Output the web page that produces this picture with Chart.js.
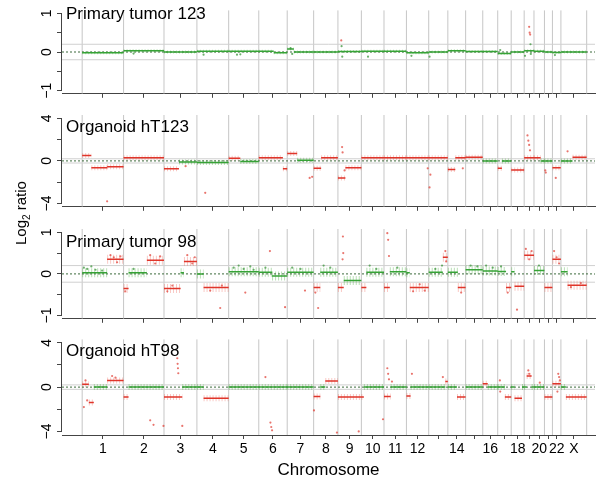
<!DOCTYPE html>
<html>
<head>
<meta charset="utf-8">
<title>Log2 ratio by chromosome</title>
<script src="https://cdn.jsdelivr.net/npm/chart.js@4.4.1/dist/chart.umd.min.js"></script>
<style>
  body { margin: 0; background: #fff; }
  #wrap { position: relative; width: 599px; height: 484px; font-family: "Liberation Sans", Arial, Helvetica, sans-serif; }
  #wrap canvas { position: absolute; left: 0; }
  #ylab { position: absolute; left: 22px; top: 213px; transform: translate(-50%, -50%) rotate(-90deg); font-size: 15px; white-space: nowrap; color: #000; }
  #ylab sub { font-size: 10px; }
</style>
</head>
<body>
<div id="wrap">
  <canvas id="p1" width="599" height="104" style="top:0px"></canvas>
  <canvas id="p2" width="599" height="113" style="top:104px"></canvas>
  <canvas id="p3" width="599" height="112" style="top:217px"></canvas>
  <canvas id="p4" width="599" height="155" style="top:329px"></canvas>
  <div id="ylab">Log<sub>2</sub> ratio</div>
</div>
<script>
// chromosomes (hg19, Mb)
var chromNames = ['1','2','3','4','5','6','7','8','9','10','11','12','13','14','15','16','17','18','19','20','21','22','X'];
var chromLengths = [249,243,198,191,181,171,159,146,141,136,135,134,115,107,103,90,81,78,59,63,48,51,155];
var chromLabelsShown = ['1','2','3','4','5','6','7','8','9','10','11','12','14','16','18','20','22','X'];
var callThreshold = 0.2;

var panelTitles = ['Primary tumor 123', 'Organoid hT123', 'Primary tumor 98', 'Organoid hT98'];
var panelLimits = [1, 4, 1, 4];

// segments: [chromosome, start Mb, end Mb, log2 ratio]
var segsT123 = [
  ['1',0,249,-0.02], ['2',0,243,0.03], ['3',0,198,0.0], ['4',0,191,0.02], ['5',0,181,0.02],
  ['6',0,90,0.02], ['6',90,171,-0.02], ['7',0,40,0.08], ['7',40,159,0.0], ['8',0,146,0.0],
  ['9',0,141,0.01], ['10',0,136,0.02], ['11',0,135,0.02], ['12',0,134,-0.02], ['13',0,115,0.0],
  ['14',0,107,0.03], ['15',0,103,0.01], ['16',0,90,0.01], ['17',0,81,-0.04], ['18',0,78,0.0],
  ['19',0,59,0.03], ['20',0,63,0.02], ['21',0,48,0.0], ['22',0,51,-0.01], ['X',0,155,0.0]
];
var segsHT123 = [
  ['1',0,55,0.5], ['1',55,150,-0.65], ['1',150,249,-0.55], ['2',0,243,0.3],
  ['3',0,90,-0.75], ['3',90,198,-0.1], ['4',0,191,-0.15], ['5',0,70,0.25], ['5',70,181,-0.05],
  ['6',0,145,0.3], ['6',145,171,-0.75], ['7',0,60,0.7], ['7',60,159,0.05],
  ['8',0,45,-0.7], ['8',45,146,0.3], ['9',0,45,-1.6], ['9',45,141,-0.65],
  ['10',0,136,0.3], ['11',0,135,0.3], ['12',0,134,0.3], ['13',0,115,0.3],
  ['14',0,45,-0.8], ['14',45,107,0.3], ['15',0,103,0.35], ['16',0,90,0.0],
  ['17',0,25,-0.7], ['17',25,81,0.0], ['18',0,78,-0.85], ['19',0,59,0.3],
  ['20',0,40,0.3], ['20',40,63,0.0], ['21',0,48,0.0], ['22',0,50,-0.65],
  ['X',0,70,0.0], ['X',70,155,0.35]
];
var segsT98 = [
  ['1',0,150,0.03], ['1',150,249,0.35], ['2',0,30,-0.35], ['2',30,140,0.03], ['2',140,243,0.33],
  ['3',0,100,-0.35], ['3',100,120,0.03], ['3',120,198,0.3], ['4',0,40,0.0], ['4',40,191,-0.33],
  ['5',0,181,0.05], ['6',0,80,0.04], ['6',80,171,-0.05], ['7',0,159,0.04],
  ['8',0,40,-0.33], ['8',40,146,0.04], ['9',0,35,-0.33], ['9',35,141,-0.16],
  ['10',0,30,-0.33], ['10',30,136,0.04], ['11',0,35,-0.33], ['11',35,135,0.05],
  ['12',0,20,0.03], ['12',20,134,-0.33], ['13',0,85,0.04], ['13',85,115,0.4],
  ['14',0,60,0.04], ['14',60,107,-0.33], ['15',0,103,0.1], ['16',0,90,0.07],
  ['17',0,50,0.06], ['17',50,81,-0.33], ['18',0,20,0.05], ['18',20,78,-0.3],
  ['19',0,59,0.45], ['20',0,63,0.08], ['21',0,48,-0.33], ['22',0,51,0.35],
  ['X',0,40,0.05], ['X',40,155,-0.27]
];
var segsHT98 = [
  ['1',0,40,0.25], ['1',40,70,-1.4], ['1',70,150,0.0], ['1',150,249,0.6],
  ['2',0,30,-0.9], ['2',30,243,0.0], ['3',0,110,-0.9], ['3',110,198,0.0],
  ['4',0,40,0.0], ['4',40,191,-1.0], ['5',0,181,0.0], ['6',0,171,0.0], ['7',0,159,0.0],
  ['8',0,40,-0.85], ['8',40,70,0.0], ['8',70,146,0.55], ['9',0,141,-0.9],
  ['10',0,15,-0.9], ['10',15,136,0.0], ['11',0,40,-0.85], ['11',40,135,0.0],
  ['12',0,25,-0.8], ['12',25,134,0.0], ['13',0,100,0.0], ['13',100,115,0.5],
  ['14',0,55,0.0], ['14',55,107,-0.9], ['15',0,103,0.0], ['16',0,30,0.3], ['16',30,90,0.0],
  ['17',0,43,0.0], ['17',43,81,-0.9], ['18',0,20,0.0], ['18',20,65,-1.0], ['18',65,78,0.0],
  ['19',0,15,0.0], ['19',15,45,1.0], ['19',45,59,0.0], ['20',0,63,0.0], ['21',0,48,-0.9],
  ['22',0,51,0.3], ['X',0,30,0.0], ['X',30,155,-0.9]
];

// single probes away from the segments: [chromosome, Mb, log2 ratio]
var ptsT123 = [
  ['2',60,-0.04], ['4',40,-0.07], ['5',50,-0.07], ['5',70,-0.06], ['7',20,0.1], ['7',30,-0.05],
  ['9',20,0.3], ['9',22,0.15], ['9',26,-0.12], ['10',40,-0.12], ['12',30,-0.1], ['13',5,-0.12],
  ['17',15,0.05], ['19',5,-0.1], ['19',30,0.65], ['19',33,0.5], ['19',36,0.45], ['19',38,0.2],
  ['19',40,-0.05], ['22',15,-0.08]
];
var ptsHT123 = [
  ['1',150,-3.8], ['3',130,-0.5], ['4',50,-3.0], ['7',135,-1.6], ['7',150,-1.5], ['9',25,1.3],
  ['9',28,0.8], ['9',40,-0.9], ['12',128,-0.7], ['13',5,-2.5], ['13',10,-1.3], ['14',90,-0.7],
  ['19',20,2.4], ['19',25,1.9], ['19',30,1.5], ['19',35,1.0], ['21',5,-0.9], ['21',8,-1.1],
  ['22',20,-1.6], ['X',40,0.9]
];
var ptsT98 = [
  ['1',10,0.15], ['1',30,0.12], ['1',55,0.18], ['1',80,0.1], ['1',120,0.08],
  ['1',170,0.45], ['1',190,0.4], ['1',210,0.28], ['1',230,0.42],
  ['2',10,-0.42], ['2',60,0.12], ['2',160,0.45], ['2',190,0.25], ['2',220,0.42],
  ['3',20,-0.42], ['3',50,-0.28], ['3',140,0.45], ['3',170,0.25], ['3',185,0.4],
  ['4',80,-0.4], ['4',140,-0.82], ['4',150,-0.28],
  ['5',30,0.15], ['5',60,0.2], ['5',90,0.12], ['5',130,0.18], ['5',150,0.1], ['5',100,-0.45],
  ['6',40,0.15], ['6',67,0.55], ['6',158,-0.8], ['7',30,0.15], ['7',80,0.12], ['7',107,-0.4],
  ['8',10,-0.45], ['8',27,-0.82], ['8',60,0.2], ['8',100,0.15],
  ['9',28,0.35], ['9',30,0.9], ['9',32,0.5], ['10',50,0.2], ['10',90,0.12],
  ['11',20,0.98], ['11',25,0.82], ['11',30,0.43], ['11',80,0.15],
  ['12',40,-0.42], ['12',80,-0.25], ['12',110,-0.4],
  ['13',40,0.12], ['13',80,0.2], ['13',100,0.55], ['13',105,0.3], ['14',80,-0.45],
  ['15',30,0.2], ['15',70,0.18], ['16',20,0.2], ['16',60,0.15], ['17',20,0.18], ['17',60,-0.45],
  ['18',35,-0.86], ['19',10,0.6], ['19',30,0.35], ['19',45,0.55], ['20',30,0.2],
  ['22',10,0.55], ['22',25,0.4], ['22',40,0.25], ['X',60,-0.32], ['X',120,-0.22]
];
var ptsHT98 = [
  ['1',10,-1.8], ['1',30,-1.2], ['1',20,0.6], ['1',180,1.0], ['1',200,0.85],
  ['2',160,-3.0], ['2',180,-3.4], ['2',240,-3.5],
  ['3',80,2.6], ['3',82,2.1], ['3',84,1.7], ['3',86,1.25], ['3',110,-3.5],
  ['6',40,0.9], ['6',70,-3.2], ['6',75,-3.6], ['6',80,-3.9],
  ['8',2,-2.1], ['8',140,-4.1], ['9',125,-4.0], ['10',130,-2.9],
  ['11',20,1.7], ['11',25,1.2], ['11',30,0.7], ['11',48,0.5], ['12',33,1.2], ['13',85,0.9],
  ['17',13,0.6], ['17',15,-0.4], ['19',25,1.5], ['19',30,1.2], ['20',35,0.4],
  ['22',30,-0.4], ['22',35,1.2], ['22',40,0.9], ['22',45,0.6]
];

// genome coordinates
var chromOffset = {};
var chromCenters = [];
var chromBounds = [0];
var genomeEnd = 0;
chromNames.forEach(function(c, i) {
  chromOffset[c] = genomeEnd;
  chromCenters.push(genomeEnd + chromLengths[i] / 2);
  genomeEnd += chromLengths[i];
  chromBounds.push(genomeEnd);
});
var xMin = -0.04 * genomeEnd;
var xMax = genomeEnd + 50;

Chart.defaults.font.family = '"Liberation Sans", Arial, Helvetica, sans-serif';
Chart.defaults.color = '#000';

function isCalled(v) { return Math.abs(v) > callThreshold; }

function segmentLine(segs, wantCalled) {
  var out = [];
  segs.forEach(function(s) {
    if (isCalled(s[3]) !== wantCalled) return;
    var off = chromOffset[s[0]];
    out.push({x: off + s[1], y: s[3]}, {x: off + s[2], y: s[3]}, {x: off + s[2], y: null});
  });
  return out;
}

function probePoints(pts, wantCalled) {
  return pts.filter(function(p) { return isCalled(p[2]) === wantCalled; })
            .map(function(p) { return {x: chromOffset[p[0]] + p[1], y: p[2]}; });
}

// axis line, rotated tick labels and panel title
var panelDecor = {
  id: 'panelDecor',
  afterDraw: function(chart, args, opts) {
    var ctx = chart.ctx, ys = chart.scales.y, area = chart.chartArea;
    ctx.save();
    ctx.strokeStyle = '#444';
    ctx.lineWidth = 1;
    ctx.beginPath();
    ctx.moveTo(area.left - 0.5, ys.getPixelForValue(-opts.lim));
    ctx.lineTo(area.left - 0.5, ys.getPixelForValue(opts.lim));
    ctx.stroke();

    ctx.fillStyle = '#000';
    ctx.font = '14px "Liberation Sans", Arial, sans-serif';
    ctx.textAlign = 'center';
    ctx.textBaseline = 'middle';
    [-opts.lim, 0, opts.lim].forEach(function(v) {
      ctx.save();
      ctx.translate(47, ys.getPixelForValue(v));
      ctx.rotate(-Math.PI / 2);
      ctx.fillText(v < 0 ? '\u2212' + Math.abs(v) : String(v), 0, 0);
      ctx.restore();
    });

    ctx.textAlign = 'left';
    ctx.textBaseline = 'alphabetic';
    ctx.font = '17px "Liberation Sans", Arial, sans-serif';
    ctx.fillText(opts.title, 66, opts.titleY);
    ctx.restore();
  }
};

function buildPanel(cfg) {
  var lim = cfg.lim;
  var yr = lim * 1.08;

  var bounds = [];
  chromBounds.forEach(function(b) {
    bounds.push({x: b, y: -yr}, {x: b, y: yr}, {x: b, y: null});
  });
  var thresholds = [
    {x: xMin, y: callThreshold}, {x: xMax, y: callThreshold}, {x: xMax, y: null},
    {x: xMin, y: -callThreshold}, {x: xMax, y: -callThreshold}
  ];

  var lineDs = function(data, color, width, order, dash) {
    return {data: data, showLine: true, borderColor: color, borderWidth: width,
            borderDash: dash || [], pointRadius: 0, order: order, spanGaps: false};
  };

  new Chart(document.getElementById(cfg.id), {
    type: 'scatter',
    data: {
      datasets: [
        lineDs(bounds, '#c6c6c6', 1, 9),
        lineDs(thresholds, '#d0d0d0', 1, 8),
        lineDs(segmentLine(cfg.segs, false), 'rgba(80,175,70,0.4)', cfg.texW, 7, [1, 2]),
        lineDs(segmentLine(cfg.segs, true), 'rgba(240,120,110,0.4)', cfg.texW, 6, [1, 2]),
        lineDs([{x: xMin, y: 0}, {x: xMax, y: 0}], '#3d6b3d', 1, 5, [2, 2]),
        lineDs(segmentLine(cfg.segs, false), '#36a336', 1.5, 4),
        lineDs(segmentLine(cfg.segs, true), '#e0352a', 1.5, 3),
        {data: probePoints(cfg.pts, false), pointRadius: 1.1, pointBorderWidth: 0,
         backgroundColor: 'rgba(60,150,60,0.75)', order: 2},
        {data: probePoints(cfg.pts, true), pointRadius: 1.1, pointBorderWidth: 0,
         backgroundColor: 'rgba(225,70,60,0.75)', order: 1}
      ]
    },
    options: {
      responsive: false,
      animation: false,
      events: [],
      layout: {padding: {top: cfg.padTop, right: 4, left: 0, bottom: 0}, autoPadding: false},
      plugins: {
        legend: {display: false},
        tooltip: {enabled: false},
        panelDecor: {lim: lim, title: cfg.title, titleY: cfg.titleY}
      },
      scales: {
        x: {
          type: 'linear', min: xMin, max: xMax,
          afterBuildTicks: function(s) { s.ticks = chromCenters.map(function(v) { return {value: v}; }); },
          afterFit: function(s) { s.height = cfg.axisH; },
          ticks: {
            autoSkip: false, maxRotation: 0, minRotation: 0, padding: 2,
            font: {size: 14}, color: '#000',
            callback: function(v, i) {
              var name = chromNames[i];
              return cfg.showLabels && chromLabelsShown.indexOf(name) >= 0 ? name : '';
            }
          },
          grid: {drawOnChartArea: false, tickLength: 4, color: '#444'},
          border: {display: true, color: '#444'},
          title: cfg.showLabels ? {display: true, text: 'Chromosome', font: {size: 17},
                                   color: '#000', padding: {top: 0, bottom: 3}} : {display: false}
        },
        y: {
          type: 'linear', min: -yr, max: yr,
          afterBuildTicks: function(s) {
            s.ticks = [-lim, -lim / 2, 0, lim / 2, lim].map(function(v) { return {value: v}; });
          },
          afterFit: function(s) { s.width = 62; },
          ticks: {callback: function() { return ''; }},
          grid: {drawOnChartArea: false, tickLength: 5, color: '#444'},
          border: {display: false}
        }
      }
    },
    plugins: [panelDecor]
  });
}

var panelSegs = [segsT123, segsHT123, segsT98, segsHT98];
var panelPts = [ptsT123, ptsHT123, ptsT98, ptsHT98];
var panelLayout = [
  {id: 'p1', padTop: 7, axisH: 7, titleY: 19, texW: 3, showLabels: false},
  {id: 'p2', padTop: 11, axisH: 8, titleY: 28, texW: 5, showLabels: false},
  {id: 'p3', padTop: 12, axisH: 8, titleY: 30, texW: 9, showLabels: false},
  {id: 'p4', padTop: 10, axisH: 49, titleY: 27, texW: 6, showLabels: true}
];

panelLayout.forEach(function(l, i) {
  buildPanel({
    id: l.id, padTop: l.padTop, axisH: l.axisH, titleY: l.titleY, texW: l.texW,
    showLabels: l.showLabels, lim: panelLimits[i], title: panelTitles[i],
    segs: panelSegs[i], pts: panelPts[i]
  });
});
</script>
</body>
</html>
